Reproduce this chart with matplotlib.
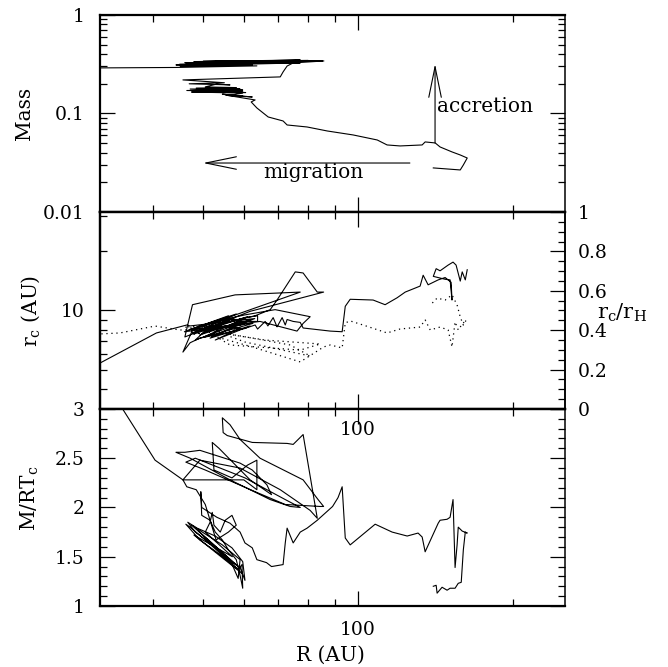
import matplotlib
matplotlib.use("Agg")
import matplotlib.pyplot as plt
from matplotlib.ticker import FixedLocator, FixedFormatter, NullFormatter, MultipleLocator

plt.rcParams['font.family'] = ['DejaVu Serif']
plt.rcParams['mathtext.fontset'] = 'dejavuserif'

# planet mass along the track (time runs from large R to small R)
mass_r = [139.9, 157.8, 160.0, 162.8, 157.8, 152.1, 144.2, 141.1, 134.9, 133.1,
          120.6, 113.8, 108.9, 97.8, 87.1, 79.6, 72.8, 71.5, 66.9, 63.6,
          62.0, 63.1, 55.2, 59.7, 54.5, 62.3, 56.0, 59.7, 47.5, 60.5,
          49.3, 59.7, 46.5, 59.7, 47.2, 59.0, 48.5, 58.0, 50.5, 53.2,
          56.4, 47.0, 55.0, 45.7, 70.6, 71.5, 72.8, 74.8,
          85.8, 53.0, 80.0, 50.0, 85.3, 48.0, 77.2, 49.7, 84.0, 46.1,
          75.0, 46.5, 69.3, 47.2, 77.2, 45.0, 70.0, 44.3, 62.3, 45.1,
          63.6, 44.3, 31.55, 30.2]
mass_m = [0.0280, 0.0267, 0.0300, 0.0353, 0.0379, 0.0407, 0.0457, 0.0502, 0.0514, 0.0479,
          0.0468, 0.0479, 0.0538, 0.0605, 0.0664, 0.0729, 0.0764, 0.0839, 0.0921, 0.1137,
          0.1309, 0.1371, 0.154, 0.150, 0.157, 0.147, 0.152, 0.161, 0.165, 0.163,
          0.169, 0.173, 0.171, 0.168, 0.177, 0.177, 0.181, 0.183, 0.186, 0.199,
          0.195, 0.200, 0.205, 0.219, 0.235, 0.264, 0.303, 0.326,
          0.341, 0.341, 0.345, 0.338, 0.343, 0.336, 0.349, 0.333, 0.340, 0.328,
          0.335, 0.324, 0.333, 0.318, 0.326, 0.315, 0.322, 0.311, 0.311, 0.304,
          0.304, 0.293, 0.290, 0.290]

# clump radius r_c (AU)
rc_r = [162.8, 161.4, 159.2, 157.8, 154.9, 152.8, 149.5, 144.2, 141.7, 139.9,
        147.5, 150.8, 152.1, 151.5, 147.5, 143.0, 136.7, 133.7, 131.9, 123.4,
        119.0, 112.8, 106.9, 96.5, 94.4, 93.1, 88.3, 78.2,
        77.2, 74.8, 72.8, 72.2, 71.2, 69.6, 68.4, 66.8, 66.0, 63.8,
        63.1, 60.6, 58.4, 55.2, 52.8, 49.3, 47.2, 45.7, 47.7, 77.2,
        57.7, 47.7, 46.1, 61.7, 85.7, 83.3, 78.2, 75.5, 69.6, 67.5,
        63.1, 56.4, 50.5, 47.7, 52.8, 60.3, 63.8, 63.8, 59.0, 49.3,
        56.4, 61.7, 48.3, 52.8, 60.3, 69.0, 80.7, 78.2, 76.1, 64.5,
        55.2, 50.5, 60.3, 51.6, 61.7, 52.8, 59.0, 49.3, 57.7,
        48.0, 61.0, 50.0, 62.5, 47.0, 58.0, 49.0, 60.0, 46.0, 56.0,
        52.0, 63.0, 47.2,
        46.5, 40.6, 31.55, 30.2]
rc_au = [16.1, 14.3, 15.7, 14.1, 17.0, 17.6, 17.0, 15.9, 16.3, 14.9,
         14.4, 14.3, 11.3, 13.9, 14.7, 14.3, 13.5, 15.1, 13.3, 12.4,
         11.6, 10.7, 11.3, 11.4, 10.5, 7.8, 7.86, 8.15,
         8.7, 8.8, 9.0, 8.44, 9.2, 8.26, 9.2, 8.35, 8.8, 8.05,
         8.44, 8.15, 7.96, 7.69, 7.51, 7.24, 6.86, 6.15, 7.96, 12.4,
         12.0, 10.7, 7.34, 9.9, 12.4, 12.4, 15.5, 15.7, 11.3, 10.1,
         9.4, 8.8, 8.15, 7.69, 8.35, 9.2, 9.4, 8.8, 8.8, 7.51,
         9.0, 9.0, 7.08, 8.8, 9.5, 10.1, 9.3, 8.6, 7.86, 8.8,
         8.35, 7.78, 8.8, 7.24, 8.35, 7.08, 8.15, 8.35, 9.2,
         7.6, 9.3, 7.3, 8.6, 8.0, 9.6, 7.9, 8.5, 7.8, 9.4,
         7.4, 9.1, 8.35,
         8.44, 7.69, 5.41, 5.1]

# r_c / r_H (right axis, dotted)
ratio_r = [139.3, 142.3, 147.5, 152.1, 155.6, 157.8, 160.0, 162.1, 159.2, 156.4,
           154.2, 152.1, 149.5, 144.2, 138.0, 134.9, 131.9, 120.6, 113.8, 102.3,
           96.5, 94.4, 93.1, 88.3, 85.7, 77.2, 62.3, 53.2, 56.4, 77.2,
           84.4, 66.0, 54.0, 60.3, 80.7, 73.8, 59.0, 50.5, 46.1, 49.3,
           56.4, 47.2, 59.0, 48.0, 61.0, 45.1, 40.35, 34.5, 31.55, 30.2]
ratio_v = [0.538, 0.563, 0.553, 0.579, 0.528, 0.467, 0.426, 0.452, 0.431, 0.401,
           0.442, 0.315, 0.401, 0.416, 0.401, 0.452, 0.416, 0.406, 0.386, 0.426,
           0.447, 0.437, 0.310, 0.325, 0.315, 0.239, 0.315, 0.365, 0.325, 0.299,
           0.330, 0.350, 0.386, 0.340, 0.269, 0.325, 0.371, 0.401, 0.416, 0.421,
           0.442, 0.401, 0.426, 0.380, 0.410, 0.401, 0.421, 0.386, 0.381, 0.376]

# M / R T_c
mrt_r = [139.9, 141.7, 142.3, 145.5, 148.8, 150.8, 154.2, 156.4, 158.5, 160.0,
         161.4, 162.8, 159.2, 156.4, 155.6, 154.2, 152.8, 150.8, 148.8, 144.2,
         143.0, 134.9, 133.1, 130.7, 124.5, 116.4, 107.9, 96.5, 94.4, 93.1,
         91.4, 89.2, 83.3, 79.6, 77.2, 74.8, 72.8, 72.2, 71.5, 67.9,
         66.4, 63.6, 62.3, 60.3, 59.0, 56.4, 53.2, 49.7, 49.5, 49.7,
         51.6, 52.8, 54.5, 56.0,
         58.0, 59.0, 59.7, 59.5, 58.5, 54.0, 49.3, 46.3, 47.2, 50.5,
         55.2, 59.0, 60.3, 59.7, 56.9, 52.8, 48.7, 46.7, 48.3, 52.1,
         56.4, 58.5, 59.0, 54.5, 47.5, 58.5, 49.0, 59.5, 48.0, 57.0,
         50.5, 51.6, 52.1, 52.5, 54.0, 55.2,
         56.9, 58.0, 56.0, 53.0,
         51.6, 50.5, 48.5, 46.5, 45.7, 60.0, 63.6, 63.6, 61.0, 56.9,
         52.5, 52.1, 53.7, 61.7, 67.9, 66.5, 62.3, 59.0, 49.3, 46.1,
         44.3, 47.2, 56.4, 67.5, 73.8, 77.2, 72.2, 60.3, 48.3, 46.3,
         50.5, 63.1, 72.2, 84.4, 85.7, 83.6, 78.2, 64.5, 59.0, 56.4,
         54.5, 54.7, 55.7, 62.3, 72.8, 74.8, 78.2, 83.3, 80.7, 70.6,
         59.0, 49.3, 45.7, 40.35, 35.0, 34.0]
mrt_v = [1.20, 1.21, 1.13, 1.19, 1.16, 1.18, 1.18, 1.23, 1.24, 1.57,
         1.75, 1.74, 1.76, 1.80, 1.62, 1.39, 2.08, 1.90, 1.88, 1.87,
         1.84, 1.55, 1.70, 1.74, 1.71, 1.75, 1.83, 1.62, 1.69, 2.21,
         2.10, 2.01, 1.87, 1.79, 1.75, 1.64, 1.79, 1.64, 1.42, 1.40,
         1.44, 1.47, 1.59, 1.64, 1.75, 1.84, 1.90, 2.00, 2.16, 1.92,
         1.87, 1.75, 1.67, 1.57,
         1.47, 1.31, 1.18, 1.42, 1.37, 1.52, 1.67, 1.83, 1.80, 1.67,
         1.49, 1.39, 1.26, 1.45, 1.59, 1.71, 1.79, 1.85, 1.75, 1.62,
         1.47, 1.28, 1.47, 1.62, 1.82, 1.40, 1.76, 1.33, 1.72, 1.50,
         1.75, 1.85, 1.95, 1.82, 1.75, 1.87,
         1.92, 1.82, 1.75, 1.67,
         1.87, 2.03, 2.18, 2.21, 2.28, 2.28, 2.18, 2.48, 2.43, 2.30,
         2.38, 2.66, 2.60, 2.28, 2.13, 2.23, 2.38, 2.45, 2.58, 2.56,
         2.56, 2.50, 2.28, 2.08, 2.01, 2.00, 2.08, 2.30, 2.50, 2.46,
         2.38, 2.16, 2.03, 2.01, 2.01, 2.08, 2.28, 2.50, 2.69, 2.84,
         2.91, 2.76, 2.73, 2.66, 2.65, 2.64, 2.74, 1.89, 1.97, 2.18,
         2.40, 2.48, 2.28, 2.48, 2.99, 3.09]

x_major = [100]
x_minor = [40, 50, 60, 70, 80, 90, 200]

fig = plt.figure(figsize=(6.68, 6.67), dpi=100)
W = 0.6961
H = 0.2954
ax1 = fig.add_axes([0.1497, 0.6822, W, H])
ax2 = fig.add_axes([0.1497, 0.3868, W, H])
ax3 = fig.add_axes([0.1497, 0.0915, W, H])

TS = 13.5
for ax in (ax1, ax2, ax3):
    ax.set_xscale('log')
    ax.set_xlim(31.55, 252)
    ax.xaxis.set_major_locator(FixedLocator(x_major))
    ax.xaxis.set_minor_locator(FixedLocator(x_minor))
    ax.xaxis.set_minor_formatter(NullFormatter())
    ax.tick_params(which='both', direction='in', top=True, bottom=True,
                   width=0.9, labelsize=TS, pad=11)
    ax.tick_params(which='major', length=10.5)
    ax.tick_params(which='minor', length=5)
    for side in ('top', 'bottom', 'left'):
        ax.spines[side].set_linewidth(1.6)
    ax.spines['right'].set_linewidth(1.1)

# top: mass
ax1.plot(mass_r, mass_m, color='k', lw=0.8)
ax1.set_yscale('log')
ax1.set_ylim(0.01, 1)
ax1.yaxis.set_major_locator(FixedLocator([0.01, 0.1, 1]))
ax1.yaxis.set_major_formatter(FixedFormatter(['0.01', '0.1', '1']))
ax1.yaxis.set_minor_locator(FixedLocator([0.02, 0.03, 0.04, 0.05, 0.06, 0.07, 0.08, 0.09,
                                          0.2, 0.3, 0.4, 0.5, 0.6, 0.7, 0.8, 0.9]))
ax1.yaxis.set_minor_formatter(NullFormatter())
ax1.tick_params(axis='y', which='both', right=True, labelright=False)
ax1.tick_params(axis='x', labelbottom=False)
arrow_style = dict(arrowstyle='->,head_length=2.2,head_width=0.45',
                   lw=0.8, color='k', shrinkA=0, shrinkB=0, mutation_scale=10)
ax1.annotate('', xy=(50, 0.0314), xytext=(126, 0.0314), arrowprops=arrow_style)
ax1.annotate('', xy=(141, 0.318), xytext=(141, 0.05), arrowprops=arrow_style)
ax1.text(81.8, 0.0249, 'migration', fontsize=14.5, ha='center', va='center')
ax1.text(142.5, 0.1164, 'accretion', fontsize=14.5, ha='left', va='center')

# middle: r_c and r_c/r_H
ax2.plot(rc_r, rc_au, color='k', lw=0.8)
ax2.set_yscale('log')
ax2.set_ylim(10 ** 0.5, 10 ** 1.5)
ax2.yaxis.set_major_locator(FixedLocator([10]))
ax2.yaxis.set_major_formatter(FixedFormatter(['10']))
ax2.yaxis.set_minor_locator(FixedLocator([4, 5, 6, 7, 8, 9, 20, 30]))
ax2.yaxis.set_minor_formatter(NullFormatter())
ax2.tick_params(axis='y', which='both', right=False)
ax2.tick_params(axis='x', labelbottom=False)

ax2r = ax2.twinx()
ax2r.plot(ratio_r, ratio_v, color='k', lw=0.9, linestyle=(0, (1, 3)))
ax2r.set_ylim(0, 1)
ax2r.yaxis.set_major_locator(FixedLocator([0, 0.2, 0.4, 0.6, 0.8, 1.0]))
ax2r.yaxis.set_major_formatter(FixedFormatter(['0', '0.2', '0.4', '0.6', '0.8', '1']))
ax2r.yaxis.set_minor_locator(MultipleLocator(0.05))
ax2r.tick_params(axis='y', which='both', direction='in', width=0.9, labelsize=TS, pad=9)
ax2r.tick_params(axis='y', which='major', length=10.5)
ax2r.tick_params(axis='y', which='minor', length=5)
for side in ('top', 'bottom', 'left'):
    ax2r.spines[side].set_linewidth(1.6)
ax2r.spines['right'].set_linewidth(1.1)

# bottom: M / R T_c
ax3.plot(mrt_r, mrt_v, color='k', lw=0.8)
ax3.set_ylim(1, 3)
ax3.yaxis.set_major_locator(FixedLocator([1, 1.5, 2, 2.5, 3]))
ax3.yaxis.set_major_formatter(FixedFormatter(['1', '1.5', '2', '2.5', '3']))
ax3.yaxis.set_minor_locator(MultipleLocator(0.1))
ax3.tick_params(axis='y', which='both', right=True, labelright=False)
ax3.xaxis.set_major_formatter(FixedFormatter(['100']))
ax3.text(100, 0.893, '100', fontsize=TS, ha='center', va='center',
         transform=ax3.get_xaxis_transform())

fig.text(25 / 668, 1 - 113 / 667, 'Mass', rotation=90, ha='center', va='center', fontsize=14.5)
fig.text(31 / 668, 1 - 311 / 667, r'$\mathrm{r_c}$ (AU)', rotation=90, ha='center', va='center', fontsize=14.5)
fig.text(30 / 668, 1 - 498 / 667, r'M/RT$_\mathrm{c}$', rotation=90, ha='center', va='center', fontsize=14.5)
fig.text(330 / 668, 1 - 655 / 667, 'R (AU)', ha='center', va='center', fontsize=14.5)
fig.text(597 / 668, 1 - 313 / 667, r'$\mathrm{r_c/r_H}$', ha='left', va='center', fontsize=15)

fig.savefig('out.png', dpi=100)
